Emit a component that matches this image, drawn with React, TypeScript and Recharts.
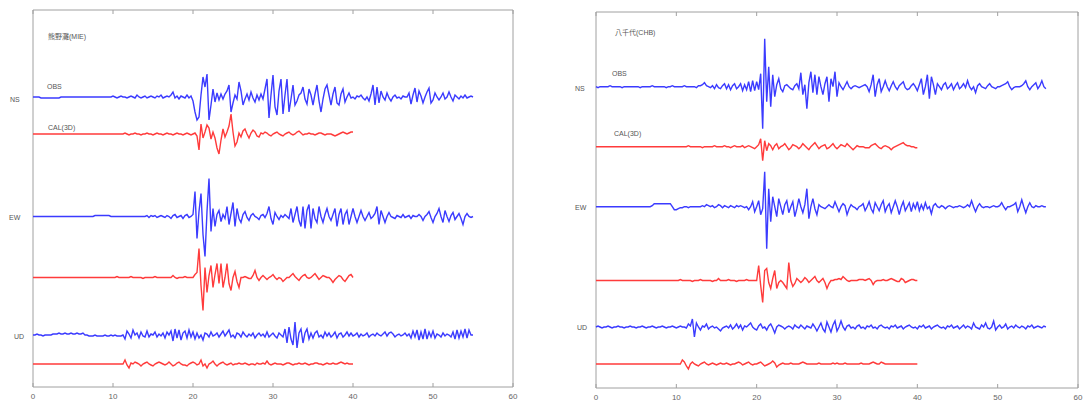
import React from 'react';
import { LineChart, Line, XAxis, YAxis, ReferenceArea } from 'recharts';

// sample step of every trace, seconds
const DT = 0.25;
const X_TICKS = [0, 10, 20, 30, 40, 50, 60];

// left station, displacement in px (up = positive), 0.25 s samples
const leftNsObs = [
  0, 0, 0, 0, -1, -1, -1, -1, -1, -1, -1, -1, -1, -1, 0, 0, 0, 0, 0, 0,
  0, 0, 0, 0, 0, 0, 0, 0, 0, 0, 0, 0, 0, 0, 0, 0, 0, 0, 0, 0,
  1, 0, -1, 0, 1, 0, 0, -1, 0, 1, 0, -1, 2, 0, -1, 0, 1, -1, 0, 1,
  0, -1, 1, 0, 2, -1, 0, 1, 0, 2, 5, -1, 1, -2, 1, 0, -1, 2, -1, 1,
  -4, -15, -23, -20, 2, 20, 10, 23, -23, -8, 8, -5, 4, -3, 3, -2, 3, 6, 12, -15,
  -6, 2, -2, 15, 6, -8, -2, 3, -3, 5, -1, -5, 2, -3, 3, -2, 8, 18, -21, 2,
  22, -10, -18, 6, 18, -17, 2, 18, -15, -2, 12, -8, -4, 2, 4, 10, -2, -7, 8, 2,
  -8, 3, 12, -4, -15, -2, 8, 12, 2, -8, 3, 10, -6, -8, 3, 8, -5, 0, 4, -1,
  0, -2, 1, 0, 2, -1, -3, 0, -4, 3, 12, -8, 10, -6, 6, 0, -3, 4, -1, -4,
  0, 2, -1, 0, -2, 1, 0, 0, 4, -7, 2, 9, -5, 6, 1, -6, 0, 5, 9, -6,
  -3, 4, 0, -3, 0, 4, -2, 0, 5, 0, -4, 2, 0, -2, 1, -1, 2, -1, 0, 1,
  0,
];
const leftNsCal = [
  0, 0, 0, 0, 0, 0, 0, 0, 0, 0, 0, 0, 0, 0, 0, 0, 0, 0, 0, 0,
  0, 0, 0, 0, 0, 0, 0, 0, 0, 0, 0, 0, 0, 0, 0, 0, 0, 0, 0, 0,
  0, 0, 0, 0, 0, 0, 1, 0, -1, 0, 0, 1, 0, 0, -1, 0, 0, 1, 0, 0,
  -1, 0, 1, 0, 0, -1, 0, 1, 0, 0, -1, 0, 1, 0, 0, -1, 0, 1, 0, -1,
  0, 1, -2, -16, 10, -4, 2, 9, 6, -5, 2, -4, -14, -20, -6, 5, -3, 2, 8, 20,
  2, -12, -8, 1, -3, 3, 5, 0, -4, 1, 4, 2, -2, -3, 1, 0, 2, 1, -1, -2,
  0, 1, 2, 0, -1, -2, 0, 1, 2, 0, -1, 0, 2, 3, 1, -1, 0, 0, 1, 0,
  0, -1, 0, 1, 1, 0, -1, 0, 0, 0, -1, -2, -1, 0, 1, 2, 1, 0, 1, 2,
  2,
];
const leftEwObs = [
  0, 0, 0, 0, 0, 0, 0, 0, 0, 0, 0, 0, 0, 0, 0, 0, 0, 0, 0, 0,
  0, 0, 0, 0, 0, 0, 0, 0, 0, 0, 0, 1, 1, 1, 1, 1, 1, 1, 1, 0,
  0, 0, 0, 0, 0, 0, 0, 0, 0, 0, 0, 0, 0, 0, 0, 0, 0, 1, -1, 1,
  0, 1, -1, 0, 1, 0, -1, 1, 0, -2, 1, 2, -1, 0, 1, -2, 1, 2, -1, 0,
  2, 25, -22, 5, 23, -18, -40, 5, 38, -15, 8, -10, 2, 6, -5, 2, -2, 10, -8, 3,
  14, -10, 8, -2, -6, 2, 5, -1, -4, 1, 3, 0, -1, -3, 1, 2, -1, 3, 10, -2,
  -8, 4, 0, -3, 1, -1, 2, 0, -2, 8, -6, 2, 10, -4, -10, 10, -12, 6, 12, -12,
  8, -2, -6, 10, 0, -6, 2, 8, 0, -4, 2, 8, -10, 2, 8, -8, 2, 6, -8, 0,
  8, 0, -6, 0, 6, 0, -4, 0, 4, -2, 0, 3, 10, -8, 6, 0, -6, 0, 4, 0,
  -1, -2, 1, 0, -1, 2, -1, 0, 1, -2, 1, 0, 0, 2, 0, -4, 0, 2, 5, -1,
  -6, 0, 3, 8, 0, -6, 6, 0, -5, 1, 4, -3, 0, 3, -2, -8, 0, 3, 0, -1,
  0,
];
const leftEwCal = [
  0, 0, 0, 0, 0, 0, 0, 0, 0, 0, 0, 0, 0, 0, 0, 0, 0, 0, 0, 0,
  0, 0, 0, 0, 0, 0, 0, 0, 0, 0, 0, 0, 0, 0, 0, 0, 0, 0, 0, 0,
  0, 0, 1, 0, 0, 0, 0, 0, 0, 1, 0, 0, 0, 0, 0, -1, 0, 0, 0, 0,
  0, 1, 0, 0, 0, 0, 0, 0, 0, 0, 2, 0, -1, 0, 0, 0, 1, 0, 0, 0,
  0, 3, 5, 29, -8, -33, 10, -15, 2, 12, -10, 3, 14, -6, 14, -10, 0, 14, -6, -13,
  0, 6, -4, -10, 0, 0, 1, 0, -1, -1, 2, 7, 0, -3, 0, 2, 0, -2, 0, 1,
  3, 0, -2, 0, -1, -4, -2, 0, 0, 2, 4, 1, -1, -3, 0, 2, 3, 0, -1, 0,
  2, 4, 1, -2, 0, 2, 1, 0, 0, -2, -5, -2, 0, 2, 1, -2, -4, -1, 2, 3,
  0,
];
const leftUdObs = [
  0, 0, 1, 0, 0, -1, 0, 0, 0, 0, 1, 1, 1, 2, 1, 1, 2, 1, 1, 2,
  1, 1, 2, 1, 1, 2, 0, 0, -1, -1, -1, 0, -1, -1, -1, -1, 0, -1, -1, 0,
  -1, 0, -1, -1, -1, 0, -4, 4, 1, -3, 5, 0, 2, -3, 3, -1, -2, 4, -2, 1,
  0, 3, -2, 1, -1, 2, -3, 3, 0, 4, -6, 6, -3, 5, -5, 2, 4, -3, 5, -2,
  3, -4, 2, -3, 0, -5, 2, 1, -2, 3, -1, 0, 2, -2, 1, 4, -1, 2, 5, -2,
  0, -3, 2, 1, -2, 3, 0, -2, 1, -1, 2, -3, 0, 2, -1, 1, -2, 3, -2, 0,
  2, -1, -3, 2, 0, -2, 6, -8, 8, -4, -10, 13, -13, 2, 6, -8, 2, 6, -4, 2,
  -3, 2, 4, -2, 0, -3, 3, -1, 2, -2, 0, 3, -3, 1, 2, -2, 0, 3, -1, 2,
  -1, 0, 2, -2, 1, -1, 0, 2, -2, 0, 1, -1, 2, 0, -1, 1, 3, -1, 2, 3,
  1, -2, 0, 1, -1, 0, 2, -1, 1, -3, 4, -2, 5, -5, 3, -4, 6, -4, 3, -2,
  4, -3, 1, 0, -2, 2, -1, 1, 0, -2, 3, -4, 5, -3, 4, -2, 6, -3, 5, 0,
  0,
];
const leftUdCal = [
  0, 0, 0, 0, 0, 0, 0, 0, 0, 0, 0, 0, 0, 0, 0, 0, 0, 0, 0, 0,
  0, 0, 0, 0, 0, 0, 0, 0, 0, 0, 0, 0, 0, 0, 0, 0, 0, 0, 0, 0,
  0, 0, 0, 0, 0, 0, 4, -1, -4, 1, 0, 2, 1, 0, -2, 0, 1, 2, 0, -1,
  -2, 0, 1, 2, 1, 0, -1, 0, 2, 0, -2, -1, 1, 2, 0, -1, -1, -2, 0, 1,
  2, 1, -1, 0, 4, -2, 0, -4, 0, 1, 3, 0, -2, 0, 1, 2, 0, -1, 0, 1,
  -1, 0, 0, 1, 0, 0, 1, 0, -1, 0, 0, -1, 1, 0, 0, 1, 0, 3, 0, -1,
  0, 1, 0, 0, 0, -1, 0, 1, 1, 0, -1, 0, 0, 1, 0, 0, 1, 0, -1, 0,
  0, 1, 1, 0, 0, -1, 0, 1, 0, 0, 1, 0, 0, 1, 2, 1, 0, 1, 0, 0,
  0,
];

// right station
const rightNsObs = [
  0, -1, 0, 0, 0, 0, 0, 1, 0, 0, 0, 0, 0, -1, 0, 0, 0, 0, 0, 0,
  0, 0, -1, 0, 0, 0, 0, 0, 1, 0, 0, 0, 0, 0, 0, -1, 0, 0, 1, 0,
  0, 0, 0, 0, 1, 0, 0, 0, 0, 0, -1, 1, 1, 2, 4, 1, 0, -1, 1, -2,
  2, -1, -2, 1, 3, -2, 2, -3, 1, 3, -2, 0, 3, -4, 2, -3, 5, -5, 6, -4,
  5, -3, 13, -42, 48, -15, 20, -20, 12, -10, 2, 8, -2, -5, 1, 2, 0, -2, -3, 1,
  3, -2, 14, -8, 2, -22, 4, 15, -6, 12, -8, 10, 0, -8, 3, 10, -15, 8, 0, 15,
  -10, 4, 0, -3, 1, 5, 0, -2, 0, 1, 0, -1, 0, 1, 2, 0, -5, 2, 12, -10,
  2, 8, -5, 0, 6, 0, -4, 1, 5, 0, -3, 1, 3, 5, -1, -3, -2, 1, 3, 0,
  -4, 2, 8, -8, 0, 12, -12, 10, 2, -8, 3, 0, -3, 2, 4, -2, 0, 3, -3, 1,
  4, -2, 0, 3, -1, 6, 0, -3, 0, -6, 1, 3, 0, -1, -2, 1, 3, 0, -1, -2,
  0, 0, 1, 2, 3, 5, 0, -3, -1, 0, 0, 0, 1, 3, 6, 0, -3, 0, 2, 4,
  -2, 1, 6, 0, -2,
];
const rightNsCal = [
  0, 0, 0, 0, 0, 0, 0, 0, 0, 0, 0, 0, 0, 0, 0, 0, 0, 0, 0, 0,
  0, 0, 0, 0, 0, 0, 0, 0, 0, 0, 0, 0, 0, 0, 0, 0, 0, 0, 0, 0,
  0, 0, 0, 0, 0, 0, 1, 0, 0, 0, 0, 0, 0, -1, 0, 0, 0, 0, 0, 1,
  0, 0, 0, 0, 1, 0, 0, -1, 0, 1, 0, 0, 0, 1, -1, 0, 1, 0, -1, -2,
  0, 2, 8, -14, 6, -4, 3, 1, -3, 1, 3, -2, 0, 1, 3, 0, -3, -1, 2, 1,
  0, -2, 0, 3, 1, -1, -3, 0, 2, 4, 1, -2, 0, 1, 2, -2, -1, 1, 3, 0,
  -2, 0, 2, 1, 0, 3, 1, -1, -3, -1, 1, 0, 0, 0, -1, -1, -1, 1, 2, 3,
  1, -1, -2, 0, 1, 0, -1, -3, -1, 0, 1, 2, 3, 4, 2, 1, 1, 0, 0, -1,
  -1,
];
const rightEwObs = [
  0, 0, 0, 0, 0, 0, 0, 0, 0, 0, 0, 0, 0, 0, 0, 0, 0, 0, 0, 0,
  0, 0, 0, 0, 0, 0, 0, 0, 1, 3, 3, 3, 3, 3, 3, 3, 3, 3, 0, -3,
  -3, -2, -1, -1, 0, 0, -1, 0, 0, 0, 0, 0, 0, 1, 0, 2, 1, 0, 1, -1,
  0, 2, 1, -1, 1, 0, -1, 1, 0, -1, 1, 0, 1, 0, -1, 0, -3, 0, 5, -5,
  0, 6, -8, -2, 35, -42, 18, -15, 10, 0, -10, 8, 0, -8, 2, 6, -6, 0, 5, -10,
  -2, 8, 0, -6, 2, 18, -12, 0, 8, -2, -8, 2, 0, -1, -2, 0, 2, 0, -1, 5,
  0, -5, 0, 3, 1, -8, -2, 2, 0, -1, -3, 0, 1, 3, -4, 0, 5, -2, -6, 4,
  0, -4, 2, 6, -5, 0, 3, -6, 0, 6, 0, -8, 0, 5, -4, 0, 4, -5, 3, -2,
  5, -4, 2, -3, 4, -2, 0, -7, 1, 3, 0, -1, 1, 0, -2, 0, 1, 0, -1, 0,
  0, 1, 0, -1, 0, 2, 0, 6, 0, -5, 0, 3, 0, -1, 0, 0, -1, 0, 1, 0,
  0, 1, 4, 0, -3, 0, 0, 1, 2, 4, -5, 0, 7, 0, -6, 0, 4, 0, -1, 1,
  0, 0, 1, 0, 0,
];
const rightEwCal = [
  0, 0, 0, 0, 0, 0, 0, 0, 0, 0, 0, 0, 0, 0, 0, 0, 0, 0, 0, 0,
  0, 0, 0, 0, 0, 0, 0, 0, 0, 0, 0, 0, 0, 0, 0, 0, 0, 0, 0, 0,
  0, 0, 1, 0, 0, 0, 0, 0, -1, 0, 0, 0, 1, 0, 0, 0, 0, 0, -1, 0,
  0, 2, 0, 0, 0, 0, 1, 0, 0, 0, -1, 0, 0, 0, 0, 1, 0, 0, 0, 0,
  0, 15, -5, -22, 10, 12, -2, -8, 2, 10, -8, -2, 0, -2, -5, -8, 18, 0, -6, -3,
  2, 0, -2, 0, 3, 1, -2, 0, 2, 4, 0, -2, 0, 2, -2, -8, -3, 0, 0, 1,
  1, 2, 1, 4, 2, 0, -1, 0, 0, 0, 0, 1, 1, 1, 0, 1, 2, 0, -4, -1,
  0, 0, 0, 1, 0, 0, 1, 2, 1, 0, -1, -1, 2, 1, -2, -1, 0, 1, 1, 0,
  0,
];
const rightUdObs = [
  0, 1, 0, -1, 0, 0, 1, 0, -1, 0, 0, 1, 0, 0, -1, 0, 0, 1, 0, 0,
  -1, 0, 0, 1, 0, -1, 0, 0, 1, 0, -1, 0, 0, 1, 0, -1, 0, 0, 1, 0,
  -1, 0, 1, 0, 0, -1, 3, 1, 8, -10, 4, 0, -3, 1, 0, 3, -2, 0, 1, -1,
  0, -2, -4, -1, 0, 1, -1, 2, -2, 0, 3, -1, 2, -3, 1, 0, 2, 4, 0, -2,
  -3, 1, 3, -1, 0, -3, 1, 3, -1, -6, 0, 2, 1, 0, -2, 0, 1, 0, -2, 2,
  0, -1, 2, 0, -2, 1, 0, -1, 3, 0, -4, 0, 4, -2, -5, 5, 0, -5, 2, 6,
  -4, 0, 6, 0, -3, 1, 2, -1, 0, -2, 1, 2, -1, 0, -2, 1, 0, 2, -1, 0,
  -2, 1, 2, 0, -1, 0, -2, 1, 0, 2, -1, 0, 1, -2, 0, 1, 2, 0, -1, 0,
  -2, 1, 0, 2, -1, 0, 1, -2, 0, 1, 2, 0, -1, 0, -2, 1, 0, 2, -1, 0,
  1, -2, 0, 2, -1, 1, 0, -2, 4, 0, -1, -2, 2, 0, 4, -1, -2, 0, 6, -3,
  0, 2, -1, 0, 3, -2, 0, 1, -1, 2, 0, -1, 1, 0, -2, 1, 0, 2, -1, 0,
  1, 0, -1, 1, 0,
];
const rightUdCal = [
  0, 0, 0, 0, 0, 0, 0, 0, 0, 0, 0, 0, 0, 0, 0, 0, 0, 0, 0, 0,
  0, 0, 0, 0, 0, 0, 0, 0, 0, 0, 0, 0, 0, 0, 0, 0, 0, 0, 0, 0,
  0, 0, 0, 4, 2, -2, -5, 0, 2, 0, -1, -2, 0, 1, 2, 0, -1, 0, 1, 0,
  -1, 0, 1, 0, 0, 1, 0, -1, 0, 0, 1, 2, 1, -1, 0, 1, 2, 0, -1, 0,
  0, 1, 2, 0, -2, -1, 0, 1, 3, 1, -3, -1, 0, 1, 0, 0, 0, 1, 0, 0,
  0, 0, 1, 2, 1, 0, 0, 0, 0, 0, 0, 1, 0, 0, 0, 0, 0, 0, 1, 0,
  1, 0, 0, 0, 1, 0, 0, 0, 0, 0, 0, 0, 1, 0, 0, 0, 0, 1, 2, 1,
  0, 0, 2, 1, 0, 0, 0, 0, 0, 0, 0, 0, 0, 0, 0, 0, 0, 0, 0, 0,
  0,
];

const BLUE = '#3b3bff';
const RED = '#ff3b3b';
const FRAME = '#a0a0a0';
const TXT = '#555';

type Trace = { id: string; values: number[]; color: string; base: number };

const toPoints = (values: number[]) => values.map((v, i) => ({ t: i * DT, v }));

// bottom label plus inward tick marks on both the bottom and top edges
const FrameTick = (props: any) => {
  const { x, y, payload, plotHeight } = props;
  const top = y - plotHeight;
  return (
    <g>
      <line x1={x} x2={x} y1={y} y2={y - 4} stroke={FRAME} />
      <line x1={x} x2={x} y1={top} y2={top + 4} stroke={FRAME} />
      <text x={x} y={y + 12} textAnchor="middle" fontSize={8} fill="#666" fontFamily="Liberation Sans, Arial">
        {payload.value}
      </text>
    </g>
  );
};

interface PanelProps {
  left: number;
  width: number;
  plotLeft: number;
  plotRight: number;
  plotTop: number;
  plotBottom: number;
  traces: Trace[];
}

const Panel: React.FC<PanelProps> = ({ left, width, plotLeft, plotRight, plotTop, plotBottom, traces }) => {
  const height = 401;
  const plotHeight = plotBottom - plotTop;
  const first = traces[0];
  return (
    <div style={{ position: 'absolute', left, top: 0 }}>
      <LineChart
        width={width}
        height={height}
        margin={{ top: plotTop, left: plotLeft - left, right: left + width - plotRight, bottom: 0 }}
      >
        <XAxis
          dataKey="t"
          type="number"
          domain={[0, 60]}
          ticks={X_TICKS}
          height={height - plotBottom}
          tickSize={0}
          tickMargin={0}
          axisLine={false}
          tick={(p: any) => <FrameTick {...p} plotHeight={plotHeight} />}
          interval={0}
        />
        {traces.map(tr => (
          <YAxis
            key={tr.id}
            yAxisId={tr.id}
            type="number"
            domain={[-(plotBottom - tr.base), tr.base - plotTop]}
            allowDataOverflow
            hide
          />
        ))}
        <ReferenceArea
          yAxisId={first.id}
          x1={0}
          x2={60}
          y1={-(plotBottom - first.base)}
          y2={first.base - plotTop}
          fill="none"
          fillOpacity={0}
          stroke={FRAME}
          strokeWidth={1}
          ifOverflow="visible"
        />
        {traces.map(tr => (
          <Line
            key={tr.id}
            yAxisId={tr.id}
            data={toPoints(tr.values)}
            dataKey="v"
            type="linear"
            stroke={tr.color}
            strokeWidth={1.4}
            dot={false}
            isAnimationActive={false}
          />
        ))}
      </LineChart>
    </div>
  );
};

const labelStyle = (x: number, y: number, size: number): React.CSSProperties => ({
  position: 'absolute',
  left: x,
  top: y - size / 2,
  fontSize: size,
  lineHeight: 1,
  color: TXT,
  whiteSpace: 'nowrap',
  fontFamily: '"Liberation Sans", "Noto Sans CJK JP", Arial, sans-serif',
});

export default function App() {
  const leftTraces: Trace[] = [
    { id: 'lnso', values: leftNsObs, color: BLUE, base: 97 },
    { id: 'lnsc', values: leftNsCal, color: RED, base: 134 },
    { id: 'lewo', values: leftEwObs, color: BLUE, base: 216.5 },
    { id: 'lewc', values: leftEwCal, color: RED, base: 277.5 },
    { id: 'ludo', values: leftUdObs, color: BLUE, base: 335 },
    { id: 'ludc', values: leftUdCal, color: RED, base: 364 },
  ];
  const rightTraces: Trace[] = [
    { id: 'rnso', values: rightNsObs, color: BLUE, base: 86.7 },
    { id: 'rnsc', values: rightNsCal, color: RED, base: 146.7 },
    { id: 'rewo', values: rightEwObs, color: BLUE, base: 206.7 },
    { id: 'rewc', values: rightEwCal, color: RED, base: 280.5 },
    { id: 'rudo', values: rightUdObs, color: BLUE, base: 327 },
    { id: 'rudc', values: rightUdCal, color: RED, base: 364 },
  ];

  return (
    <div style={{ position: 'absolute', left: 0, top: 0, width: 1087, height: 401, background: '#fff', overflow: 'hidden' }}>
      <Panel left={0} width={540} plotLeft={33} plotRight={513} plotTop={10} plotBottom={387} traces={leftTraces} />
      <Panel left={545} width={542} plotLeft={596} plotRight={1078} plotTop={12} plotBottom={388} traces={rightTraces} />

      <div style={labelStyle(48, 36, 7)}>熊野灘(MIE)</div>
      <div style={labelStyle(47, 86, 7)}>OBS</div>
      <div style={labelStyle(48, 127, 7)}>CAL(3D)</div>
      <div style={labelStyle(10, 99, 7)}>NS</div>
      <div style={labelStyle(9, 217, 7)}>EW</div>
      <div style={labelStyle(14, 336, 7)}>UD</div>

      <div style={labelStyle(615, 32, 7)}>八千代(CHB)</div>
      <div style={labelStyle(612, 73, 7)}>OBS</div>
      <div style={labelStyle(614, 133, 7)}>CAL(3D)</div>
      <div style={labelStyle(575, 88, 7)}>NS</div>
      <div style={labelStyle(575, 207, 7)}>EW</div>
      <div style={labelStyle(577, 327, 7)}>UD</div>
    </div>
  );
}
